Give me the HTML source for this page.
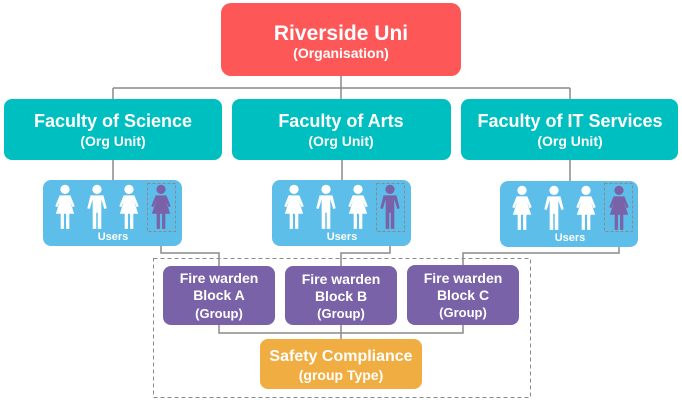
<!DOCTYPE html>
<html><head><meta charset="utf-8"><style>
body{margin:0;background:#fff;width:682px;height:401px;overflow:hidden;font-family:"Liberation Sans",sans-serif}
</style></head><body>
<svg width="682" height="401" viewBox="0 0 682 401" xmlns="http://www.w3.org/2000/svg" font-family="Liberation Sans, sans-serif" font-weight="bold" text-anchor="middle">
<defs>
<g id="f0"><circle cx="0" cy="5" r="4.3"/><path d="M-5,10.5 h10 l4,10 -2,1 -2.5,-6 4,12 h-4.5 v14 h-3 v-14 h-2 v14 h-3 v-14 h-4.5 l4,-12 -2.5,6 -2,-1z"/></g>
<g id="m0"><circle cx="0" cy="5" r="4.3"/><path d="M-6,10.5 h12 l3,12 -2.3,0.6 -2.7,-9 v27.5 h-3.3 v-15 h-1.4 v15 h-3.3 v-27.5 l-2.7,9 -2.3,-0.6z"/></g>
<g id="f"><use href="#f0" transform="scale(1.08)"/></g>
<g id="m"><use href="#m0" transform="scale(1.08)"/></g>
</defs>
<g stroke="#8a8a8a" stroke-width="1.5" fill="none">
<path d="M341,76 V99 M113,88 H570 M113,88 V99 M570,88 V99 M113,160 V181 M342,160 V181 M570,160 V181"/>
<path d="M161,231 V253 H219 V266 M390,231 V253 H341 V266 M619,231 V253 H463 V266"/>
<path d="M219,325 V333 H463 V325 M341,325 V339"/>
</g>
<rect x="153.5" y="258.5" width="377" height="139" fill="none" stroke="#8a8a8a" stroke-dasharray="4,3"/>
<rect x="221" y="3" width="240" height="73" rx="10" fill="#fe5757"/>
<text x="341" y="40" fill="#fff" font-size="21">Riverside Uni</text>
<text x="341" y="58" fill="#fff" font-size="14">(Organisation)</text>
<g fill="#00bfc0"><rect x="4" y="99" width="218" height="61" rx="8"/><rect x="232" y="99" width="219" height="61" rx="8"/><rect x="461" y="99" width="217" height="61" rx="8"/></g>
<g fill="#fff"><text x="113" y="127" font-size="18">Faculty of Science</text><text x="113" y="146" font-size="14">(Org Unit)</text>
<text x="341" y="127" font-size="18">Faculty of Arts</text><text x="341" y="146" font-size="14">(Org Unit)</text>
<text x="570" y="127" font-size="18">Faculty of IT Services</text><text x="570" y="146" font-size="14">(Org Unit)</text></g>
<g fill="#5ebeea"><rect x="43" y="180" width="139" height="66" rx="8"/><rect x="272" y="180" width="139" height="66" rx="8"/><rect x="500" y="181" width="138" height="66" rx="8"/></g>
<g fill="#fff">
<use href="#f" x="65" y="184"/><use href="#m" x="97" y="184"/><use href="#f" x="129" y="184"/>
<use href="#f" x="294" y="184"/><use href="#m" x="326" y="184"/><use href="#f" x="358" y="184"/>
<use href="#f" x="522" y="185"/><use href="#m" x="554" y="185"/><use href="#f" x="586" y="185"/>
<text x="113" y="240" font-size="11">Users</text><text x="342" y="240" font-size="11">Users</text><text x="570" y="241" font-size="11">Users</text>
</g>
<g fill="#7a62a8"><use href="#f" x="161" y="184"/><use href="#m" x="390" y="184"/><use href="#f" x="619" y="185"/></g>
<g fill="none" stroke="#8a8a8a" stroke-dasharray="3,2"><rect x="147.5" y="183.5" width="28" height="48"/><rect x="376.5" y="183.5" width="28" height="48"/><rect x="604.5" y="183.5" width="28" height="48"/></g>
<g fill="#7a62a8"><rect x="163" y="266" width="112" height="59" rx="8"/><rect x="285" y="266" width="112" height="59" rx="8"/><rect x="407" y="265" width="112" height="60" rx="8"/></g>
<g fill="#fff" font-size="14">
<text x="219" y="283">Fire warden</text><text x="219" y="300">Block A</text><text x="219" y="318" font-size="13">(Group)</text>
<text x="341" y="284">Fire warden</text><text x="341" y="301">Block B</text><text x="341" y="318" font-size="13">(Group)</text>
<text x="463" y="283">Fire warden</text><text x="463" y="300">Block C</text><text x="463" y="317" font-size="13">(Group)</text>
</g>
<rect x="260" y="339" width="162" height="50" rx="8" fill="#f0ad41"/>
<text x="341" y="361" fill="#fff" font-size="16">Safety Compliance</text>
<text x="341" y="380" fill="#fff" font-size="14">(group Type)</text>
</svg>
</body></html>
